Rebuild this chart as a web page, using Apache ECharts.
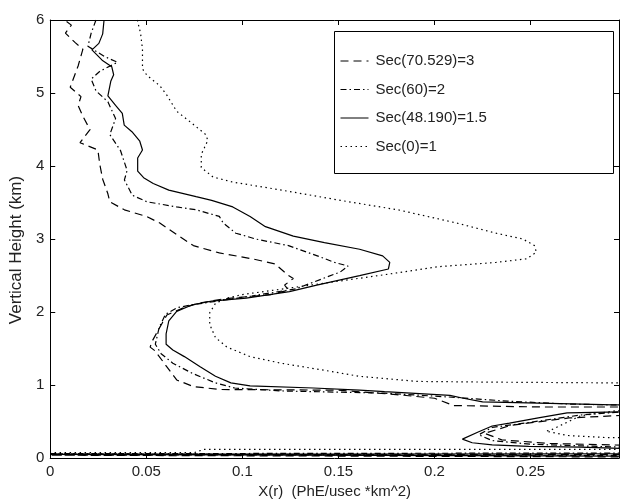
<!DOCTYPE html>
<html>
<head>
<meta charset="utf-8">
<script src="https://cdn.jsdelivr.net/npm/echarts@6/dist/echarts.min.js"></script>
<style>html,body{margin:0;padding:0;background:#fff}#c{width:620px;height:504px}</style>
</head>
<body>
<div id="c"></div>
<script>
// Series names (legend)
const seriesNames = ['Sec(70.529)=3', 'Sec(60)=2', 'Sec(48.190)=1.5', 'Sec(0)=1'];

// Sec(70.529)=3  (dashed)
const sec3H = [5.98,5.93,5.82,5.69,5.6,5.37,5.08,4.95,4.83,4.68,4.5,4.32,4.22,4.02,3.82,3.62,3.51,3.40,3.31,3.22,3.04,2.91,2.81,2.73,2.66,2.50,2.46,2.37,2.30,2.24,2.18,2.12,2.06,1.96,1.79,1.60,1.52,1.47,1.25,1.07,0.98,0.94,0.93,0.87,0.82,0.72,0.70,0.70,0.60,0.55,0.45,0.34,0.25,0.20,0.17,0.05,0.045,0.04,0.02,0.015];
const sec3X = [0.0085,0.011,0.0079,0.013,0.017,0.0145,0.0104,0.016,0.0145,0.017,0.0207,0.0155,0.0248,0.0258,0.0273,0.030,0.031,0.0386,0.050,0.057,0.067,0.0745,0.088,0.105,0.117,0.124,0.1265,0.122,0.124,0.115,0.09,0.077,0.0695,0.0607,0.057,0.053,0.052,0.0545,0.0607,0.0658,0.0745,0.088,0.15,0.18,0.20,0.21,0.2555,0.31,0.31,0.27,0.24,0.226,0.235,0.26,0.31,0.31,0.31,0,0,0.31];

// Sec(60)=2  (dash-dot)
const sec2H = [6.0,5.82,5.64,5.5,5.42,5.30,5.19,5.03,4.88,4.65,4.43,4.21,3.94,3.81,3.60,3.51,3.44,3.40,3.31,3.22,3.08,3.0,2.91,2.77,2.68,2.63,2.55,2.46,2.32,2.22,2.17,2.10,2.06,1.97,1.79,1.56,1.43,1.30,1.16,1.03,0.96,0.92,0.89,0.83,0.78,0.74,0.72,0.66,0.59,0.48,0.42,0.32,0.24,0.19,0.15,0.13,0.07,0.06,0.04,0.035];
const sec2X = [0.0238,0.0213,0.0196,0.0283,0.035,0.0259,0.0213,0.0238,0.030,0.034,0.031,0.0366,0.040,0.0386,0.0427,0.0504,0.0658,0.076,0.088,0.090,0.0966,0.107,0.124,0.139,0.148,0.155,0.151,0.142,0.128,0.105,0.092,0.074,0.066,0.060,0.0567,0.0547,0.0577,0.0638,0.074,0.086,0.096,0.12,0.174,0.2115,0.238,0.27,0.31,0.31,0.276,0.247,0.230,0.223,0.230,0.25,0.297,0.31,0.31,0,0,0.31];

// Sec(48.190)=1.5  (solid)
const sec15H = [6.0,5.81,5.68,5.59,5.45,5.36,5.25,5.16,4.96,4.83,4.72,4.56,4.47,4.34,4.22,4.11,3.93,3.84,3.76,3.67,3.58,3.53,3.44,3.31,3.17,3.04,2.95,2.86,2.77,2.68,2.59,2.50,2.37,2.28,2.19,2.15,2.10,2.01,1.88,1.70,1.56,1.48,1.39,1.25,1.12,1.03,0.99,0.96,0.93,0.91,0.86,0.82,0.77,0.75,0.73,0.72,0.64,0.62,0.55,0.48,0.44,0.36,0.26,0.21,0.18,0.16,0.15,0.12,0.06,0.05,0.03,0.025];
const sec15X = [0.028,0.0273,0.0253,0.0217,0.027,0.032,0.033,0.0315,0.030,0.034,0.0375,0.0385,0.0425,0.0466,0.048,0.0455,0.0455,0.0486,0.0536,0.0617,0.0759,0.084,0.095,0.104,0.112,0.1265,0.1427,0.161,0.173,0.1767,0.176,0.161,0.1387,0.1245,0.102,0.084,0.074,0.0658,0.0617,0.0603,0.0603,0.0638,0.0698,0.078,0.086,0.094,0.104,0.137,0.161,0.174,0.208,0.215,0.225,0.26,0.293,0.31,0.31,0.269,0.254,0.239,0.230,0.223,0.2145,0.2196,0.230,0.249,0.276,0.31,0.31,0,0,0.31];

// Sec(0)=1  (dotted)
const sec1H = [6.0,5.82,5.6,5.33,5.24,5.1,4.97,4.75,4.61,4.43,4.35,4.16,3.98,3.85,3.78,3.67,3.53,3.40,3.22,3.08,3.0,2.91,2.82,2.73,2.68,2.62,2.50,2.39,2.30,2.24,2.19,2.12,1.99,1.83,1.65,1.52,1.39,1.30,1.21,1.12,1.05,1.04,1.03,1.03,0.70,0.65,0.58,0.39,0.37,0.31,0.28,0.28,0.12,0.12,0.075,0.075];
const sec1X = [0.0453,0.047,0.048,0.048,0.0504,0.057,0.0607,0.0658,0.0726,0.081,0.082,0.0786,0.0786,0.0847,0.095,0.1204,0.151,0.181,0.2115,0.232,0.246,0.252,0.253,0.248,0.232,0.2014,0.171,0.141,0.1164,0.100,0.092,0.086,0.083,0.083,0.086,0.092,0.104,0.120,0.141,0.161,0.191,0.232,0.2925,0.31,0.31,0.295,0.276,0.261,0.258,0.269,0.29,0.31,0.31,0.08,0.075,0];

// Axis ticks
const xTicks = [0, 0.05, 0.1, 0.15, 0.2, 0.25];
const yTicks = [0, 1, 2, 3, 4, 5, 6];

const zip = (xs, hs) => xs.map((x, i) => [x, hs[i]]);
const FONT = '"Liberation Sans", Arial, Helvetica, sans-serif';
const TXT = '#222';

const chart = echarts.init(document.getElementById('c'), null, {renderer: 'canvas'});

function lineSeries(name, xs, hs, type) {
  return {
    name: name, type: 'line', data: zip(xs, hs),
    symbol: 'none', showSymbol: false, clip: true, smooth: false,
    lineStyle: {color: '#000', width: 1.2, type: type},
    itemStyle: {color: '#000'},
    animation: false, z: 2
  };
}

const xLabelFmt = v => {
  const k = Math.round(v / 0.05);
  if (Math.abs(v - k * 0.05) > 1e-6) return '';
  const r = Math.round(k * 5) / 100;
  return xTicks.indexOf(r) >= 0 ? String(r) : '';
};

const axisCommon = {
  axisLine: {show: true, onZero: false, lineStyle: {color: '#000', width: 1}},
  axisTick: {show: true, inside: true, length: 5, lineStyle: {color: '#000', width: 1}},
  splitLine: {show: false}
};

chart.setOption({
  animation: false,
  backgroundColor: '#fff',
  grid: {left: 42, top: 20, width: 577, height: 446, containLabel: false},
  xAxis: [
    Object.assign({
      type: 'value', min: 0, max: 0.296, interval: 0.05, position: 'bottom',
      name: 'X(r)  (PhE/usec *km^2)', nameLocation: 'middle', nameGap: 22,
      nameTextStyle: {fontFamily: FONT, fontSize: 15, color: TXT},
      axisLabel: {fontFamily: FONT, fontSize: 15, color: TXT, margin: 6, formatter: xLabelFmt, showMaxLabel: false}
    }, axisCommon),
    Object.assign({
      type: 'value', min: 0, max: 0.296, interval: 0.05, position: 'top',
      axisLabel: {show: false}
    }, axisCommon)
  ],
  yAxis: [
    Object.assign({
      type: 'value', min: 0, max: 6, interval: 1, position: 'left',
      name: 'Vertical Height (km)', nameLocation: 'middle', nameGap: 16,
      nameTextStyle: {fontFamily: FONT, fontSize: 17, color: TXT, padding: [0, 22, 0, 0]},
      axisLabel: {fontFamily: FONT, fontSize: 15, color: TXT, margin: 6,
        formatter: v => (yTicks.indexOf(v) >= 0 ? String(v) : '')}
    }, axisCommon),
    Object.assign({
      type: 'value', min: 0, max: 6, interval: 1, position: 'right',
      axisLabel: {show: false}
    }, axisCommon)
  ],
  legend: {
    data: seriesNames, orient: 'vertical', left: 340, top: 53,
    itemWidth: 28, itemHeight: 14, itemGap: 12.5,
    itemStyle: {opacity: 0},
    lineStyle: {width: 1},
    textStyle: {fontFamily: FONT, fontSize: 15, color: TXT, lineHeight: 16, padding: [0, 0, 0, 2]},
    borderWidth: 0, padding: 0, z: 5, selectedMode: false
  },
  graphic: [{
    type: 'rect', z: 4, left: 334, top: 31,
    shape: {width: 279, height: 142},
    style: {fill: '#fff', stroke: '#000', lineWidth: 1}
  }],
  series: [
    lineSeries(seriesNames[0], sec3X, sec3H, [8, 5]),
    lineSeries(seriesNames[1], sec2X, sec2H, [6, 3, 1.5, 3]),
    lineSeries(seriesNames[2], sec15X, sec15H, 'solid'),
    lineSeries(seriesNames[3], sec1X, sec1H, [1.5, 3.5])
  ]
});
</script>
</body>
</html>
